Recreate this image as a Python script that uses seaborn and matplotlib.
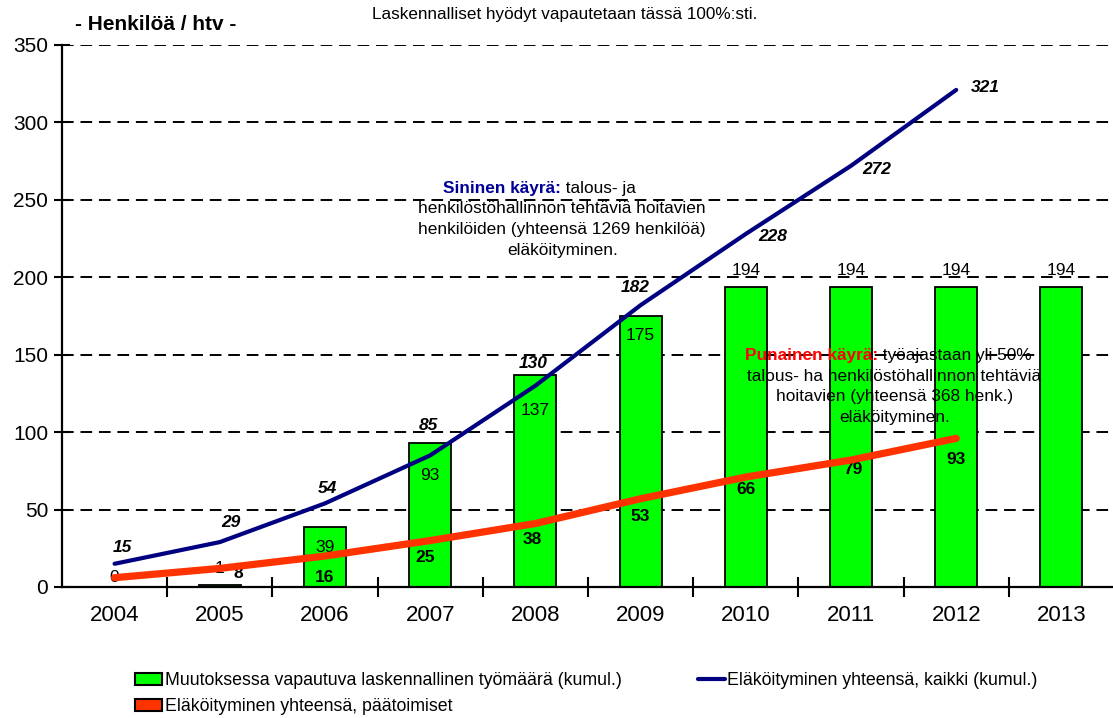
import numpy as np
import pandas as pd
import matplotlib
matplotlib.use("Agg")
import matplotlib.pyplot as plt
import seaborn as sns
from matplotlib.patches import Patch
from matplotlib.lines import Line2D

# ---------------- data ----------------
years = ["2004", "2005", "2006", "2007", "2008", "2009", "2010", "2011", "2012", "2013"]
bar_values = [0, 1, 39, 93, 137, 175, 194, 194, 194, 194]
blue_values = [15, 29, 54, 85, 130, 182, 228, 272, 321]
red_curve = [6, 12, 20, 30, 41, 57, 71, 82, 96]
red_labels = ["", "8", "16", "25", "38", "53", "66", "79", "93"]

bar_name = "Muutoksessa vapautuva laskennallinen työmäärä (kumul.)"
blue_name = "Eläköityminen yhteensä, kaikki (kumul.)"
red_name = "Eläköityminen yhteensä, päätoimiset"

# label offsets (pixels, y up)
bar_lab_off = [(0, 9), (0, 17), (0, -21), (0, -33), (0, -36), (0, -20), (0, 16), (0, 16), (0, 16), (0, 16)]
blue_lab_off = [(8, 16), (11, 20), (2, 15), (-2, 30), (-2, 22), (-5, 18), (27, -3), (26, -4), (29, 2)]
red_lab_off = [(0, 0), (19, 1), (0, -15), (-5, -9), (-3, -11), (0, -12), (0, -5), (2, -5), (0, -17)]

sns.set_theme(style="white")
plt.rcParams["font.family"] = ["Liberation Sans", "DejaVu Sans"]
plt.rcParams["text.color"] = "black"
plt.rcParams["xtick.color"] = "black"
plt.rcParams["ytick.color"] = "black"

fig = plt.figure(figsize=(11.13, 7.18), dpi=100)
ax = fig.add_axes([62 / 1113, 131 / 718, 1052 / 1113, 542 / 718])

df = pd.DataFrame({"year": years, "value": bar_values})
sns.barplot(data=df, x="year", y="value", order=years, color="#00FF00", saturation=1,
            width=0.4, edgecolor="black", linewidth=1.3, ax=ax, zorder=2)

xpos = np.arange(len(blue_values))
sns.lineplot(x=xpos, y=blue_values, color="#000080", linewidth=3, ax=ax, zorder=5,
             solid_capstyle="round")
sns.lineplot(x=np.arange(len(red_curve)), y=red_curve, color="#FF3300", linewidth=5.2, ax=ax,
             zorder=4, solid_capstyle="round")

ax.set_xlim(-0.5, 9.5)
ax.set_ylim(0, 350)
ax.set_yticks(np.arange(0, 351, 50))
ax.set_xlabel("")
ax.set_ylabel("")
ax.set_xticks(np.arange(10))
ax.set_xticklabels(years, fontsize=16)
ax.set_xticks(np.arange(0.5, 9.5, 1), minor=True)
ax.tick_params(axis="y", labelsize=15, labelcolor="black", direction="inout", length=12,
               width=1.5, left=True, pad=4)
ax.tick_params(axis="x", which="major", length=0, pad=13, labelcolor="black")
ax.tick_params(axis="x", which="minor", direction="inout", length=14, width=1.5, bottom=True)

ax.yaxis.grid(True, color="black", linestyle=(0, (6, 3.5)), linewidth=1.4)
ax.xaxis.grid(False)
ax.set_axisbelow(True)
for s in ["top", "right"]:
    ax.spines[s].set_visible(False)
for s in ["left", "bottom"]:
    ax.spines[s].set_color("black")
    ax.spines[s].set_linewidth(1.6)
    ax.spines[s].set_zorder(6)

# bar labels
for i, v in enumerate(bar_values):
    ax.annotate(str(v), xy=(i, v), xytext=bar_lab_off[i], textcoords="offset pixels",
                ha="center", va="center", fontsize=12.5, color="black", zorder=3)
# blue labels
for i, v in enumerate(blue_values):
    ax.annotate(str(v), xy=(i, v), xytext=blue_lab_off[i], textcoords="offset pixels",
                ha="center", va="center", fontsize=12.5, fontweight="bold", fontstyle="italic",
                color="black", zorder=3)
# red labels
for i, lab in enumerate(red_labels):
    if lab:
        ax.annotate(lab, xy=(i, float(lab)), xytext=red_lab_off[i], textcoords="offset pixels",
                    ha="center", va="center", fontsize=12.5, fontweight="bold",
                    color="black", zorder=3)

# explanatory texts
def two_part(x_split, y, bold_txt, bold_col, rest_txt, fs=12.4):
    t = ax.text(x_split, y, bold_txt, ha="right", va="center", fontsize=fs,
                fontweight="bold", color=bold_col, zorder=3)
    ax.annotate(" " + rest_txt, xy=(1, 0.5), xycoords=t, ha="left", va="center",
                fontsize=fs, color="black", zorder=3)

two_part(4.245, 257.6, "Sininen käyrä:", "#000099", "talous- ja")
for txt, y in [("henkilöstöhallinnon tehtäviä hoitavien", 244.7),
               ("henkilöiden (yhteensä 1269 henkilöä)", 231.1),
               ("eläköityminen.", 217.6)]:
    ax.text(4.255, y, txt, ha="center", va="center", fontsize=12.4, color="black", zorder=3)

two_part(7.26, 149.8, "Punainen käyrä:", "#FF0000", "työajastaan yli 50%")
for txt, y in [("talous- ha henkilöstöhallinnon tehtäviä", 136.2),
               ("hoitavien (yhteensä 368 henk.)", 122.7),
               ("eläköityminen.", 109.7)]:
    ax.text(7.41, y, txt, ha="center", va="center", fontsize=12.4, color="black", zorder=3)

fig.text(75 / 1113, 1 - 25 / 718, "- Henkilöä / htv -", fontsize=15, fontweight="bold",
         ha="left", va="center")
fig.text(372 / 1113, 1 - 15 / 718, "Laskennalliset hyödyt vapautetaan tässä 100%:sti.",
         fontsize=12.3, ha="left", va="center")

handles = [Patch(facecolor="#00FF00", edgecolor="black", linewidth=1.5, label=bar_name),
           Patch(facecolor="#FF3300", edgecolor="black", linewidth=1.5, label=red_name),
           Line2D([0], [0], color="#000080", linewidth=3, label=blue_name)]
fig.legend(handles=handles, ncol=2, loc="upper left", bbox_to_anchor=(130 / 1113, 1 - 667 / 718),
           frameon=False, prop={"size": 12.8},
           handlelength=1.5, handleheight=0.6, handletextpad=0.15, columnspacing=4.3,
           labelspacing=0.5, borderaxespad=0, borderpad=0.3)

fig.savefig("out.png", dpi=100)
